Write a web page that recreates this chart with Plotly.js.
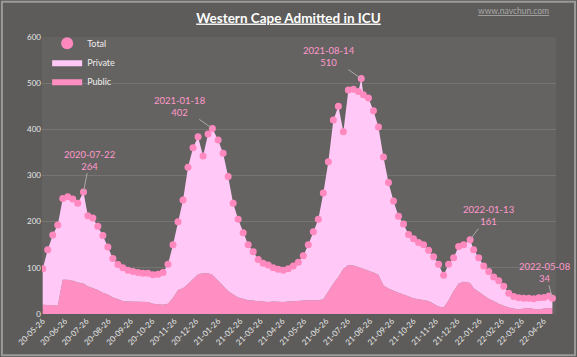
<!DOCTYPE html>
<html>
<head>
<meta charset="utf-8">
<script src="https://cdn.plot.ly/plotly-3.0.1.min.js"></script>
<style>
html,body{margin:0;padding:0;background:#5d5c5a;}
#chart{width:577px;height:357px;}
</style>
</head>
<body>
<div id="chart"></div>
<script>
// Dates (roughly weekly, plus the annotated dates)
const dates = [
"2020-05-26","2020-06-02","2020-06-09","2020-06-16","2020-06-23","2020-06-30","2020-07-07","2020-07-14","2020-07-22","2020-07-28",
"2020-08-04","2020-08-11","2020-08-18","2020-08-25","2020-09-01","2020-09-08","2020-09-15","2020-09-22","2020-09-29","2020-10-06",
"2020-10-13","2020-10-20","2020-10-27","2020-11-03","2020-11-10","2020-11-17","2020-11-24","2020-12-01","2020-12-08","2020-12-15",
"2020-12-22","2020-12-29","2021-01-05","2021-01-12","2021-01-18","2021-01-26","2021-02-02","2021-02-09","2021-02-16","2021-02-23",
"2021-03-02","2021-03-09","2021-03-16","2021-03-23","2021-03-30","2021-04-06","2021-04-13","2021-04-20","2021-04-27","2021-05-04",
"2021-05-11","2021-05-18","2021-05-25","2021-06-01","2021-06-08","2021-06-15","2021-06-22","2021-06-29","2021-07-06","2021-07-13",
"2021-07-20","2021-07-27","2021-08-03","2021-08-10","2021-08-14","2021-08-17","2021-08-24","2021-08-31","2021-09-07","2021-09-14",
"2021-09-21","2021-09-28","2021-10-05","2021-10-12","2021-10-19","2021-10-26","2021-11-02","2021-11-09","2021-11-16","2021-11-23",
"2021-11-30","2021-12-07","2021-12-14","2021-12-21","2021-12-28","2022-01-04","2022-01-13","2022-01-18","2022-01-25","2022-02-01",
"2022-02-08","2022-02-15","2022-02-22","2022-03-01","2022-03-08","2022-03-15","2022-03-22","2022-03-29","2022-04-05","2022-04-12",
"2022-04-19","2022-04-26","2022-05-03","2022-05-08"
];
const total = [
98,139,171,193,250,254,249,240,264,213,
208,190,170,145,120,107,100,95,92,90,
88,88,85,86,90,108,150,200,247,318,
360,384,342,390,402,377,348,298,240,205,
176,150,135,118,110,106,100,97,95,98,
104,112,126,150,178,205,262,330,420,450,
395,485,487,482,510,475,468,440,405,340,
285,245,212,195,172,163,155,150,138,124,
108,84,108,122,146,150,161,139,122,104,
92,80,72,60,45,38,35,34,34,33,
35,36,39,34
];
const publicVals = [
20,20,19,18,74,74,72,68,66,60,
56,52,46,42,36,32,28,27,27,27,
27,26,22,21,20,22,35,52,56,65,
75,86,88,88,85,72,62,50,42,36,
33,30,29,28,27,26,27,26,26,27,
28,29,30,30,30,30,32,50,66,80,
98,106,105,102,100,98,95,90,85,62,
55,50,46,42,38,34,32,30,28,22,
16,14,30,50,66,70,67,56,48,40,
33,28,22,18,14,12,10,12,13,11,
10,12,13,12
];
const privateVals = total.map((t, i) => t - publicVals[i]);

const tickDates = [
"2020-05-26","2020-06-26","2020-07-26","2020-08-26","2020-09-26","2020-10-26","2020-11-26","2020-12-26",
"2021-01-26","2021-02-26","2021-03-26","2021-04-26","2021-05-26","2021-06-26","2021-07-26","2021-08-26",
"2021-09-26","2021-10-26","2021-11-26","2021-12-26","2022-01-26","2022-02-26","2022-03-26","2022-04-26"
];
const tickLabels = [
"20-05-26","20-06-26","20-07-26","20-08-26","20-09-26","20-10-26","20-11-26","20-12-26",
"21-01-26","21-02-26","21-03-26","21-04-26","21-05-26","21-06-26","21-07-26","21-08-26",
"21-09-26","21-10-26","21-11-26","21-12-26","22-01-26","22-02-26","22-03-26","22-04-26"
];

const annDates = ["2020-07-22","2021-01-18","2021-08-14","2022-01-13","2022-05-08"];
const annValues = [264, 402, 510, 161, 34];
const annAx = [6, -32, -32, 18, -7];
const annAy = [-32, -22, -22, -24, -26];

const traces = [
  {x: dates, y: publicVals, name: "Public", type: "scatter", mode: "lines",
   stackgroup: "one", line: {width: 0, color: "#ff8fc2"}, fillcolor: "#ff8fc2", hoverinfo: "skip"},
  {x: dates, y: privateVals, name: "Private", type: "scatter", mode: "lines",
   stackgroup: "one", line: {width: 0, color: "#ffc8f7"}, fillcolor: "#ffc8f7", hoverinfo: "skip"},
  {x: dates, y: total, name: "Total", type: "scatter", mode: "markers",
   marker: {color: "#ff88bf", size: 7}}
];

const annotations = annDates.map((d, i) => ({
  x: d, y: annValues[i], xref: "x", yref: "y",
  text: d + "<br>" + annValues[i],
  showarrow: true, arrowhead: 0, arrowwidth: 1, arrowcolor: "#a9a9a9",
  ax: annAx[i], ay: annAy[i],
  font: {family: "Lato, 'Open Sans', sans-serif", size: 9.5, color: "#ff99cc"}
}));
annotations.push({
  xref: "paper", yref: "paper", x: 0.99, y: 1.094, xanchor: "right", yanchor: "middle",
  text: "www.navchun.com", showarrow: false,
  font: {family: "Lato, sans-serif", size: 8.5, color: "#a8a8a8", lineposition: "under"}
});

const layout = {
  width: 577, height: 357,
  paper_bgcolor: "#5d5c5a", plot_bgcolor: "#656361",
  margin: {l: 42, r: 21, t: 37, b: 43},
  title: {text: "Western Cape Admitted in ICU", x: 0.5, xanchor: "center", y: 0.95, yanchor: "middle",
          font: {family: "Lato, 'Open Sans', sans-serif", size: 13.5, color: "#ffffff", weight: "bold", lineposition: "under"}},
  showlegend: true,
  legend: {x: 0.01, y: 1.03, xanchor: "left", yanchor: "top", traceorder: "reversed",
           bgcolor: "rgba(0,0,0,0)", font: {family: "Lato, 'Open Sans', sans-serif", size: 9, color: "#eeeeee"},
           itemsizing: "constant", tracegroupgap: 0},
  xaxis: {type: "date", range: ["2020-05-25", "2022-05-13"],
          tickmode: "array", tickvals: tickDates, ticktext: tickLabels, tickangle: -45,
          tickfont: {family: "Lato, 'Open Sans', sans-serif", size: 8, color: "#e6e6e6"},
          showgrid: false, zeroline: false, showline: false, ticks: ""},
  yaxis: {range: [0, 600], dtick: 100, tickfont: {family: "Lato, 'Open Sans', sans-serif", size: 8, color: "#e6e6e6"},
          gridcolor: "#777573", gridwidth: 1, zeroline: false, showline: false},
  annotations: annotations,
  shapes: [{type: "rect", xref: "paper", yref: "paper", x0: -0.078, x1: 1.037, y0: -0.149, y1: 1.127,
            line: {color: "#9a9a9a", width: 2}, fillcolor: "rgba(0,0,0,0)"}]
};

Plotly.newPlot("chart", traces, layout, {displayModeBar: false, staticPlot: true});
</script>
</body>
</html>
